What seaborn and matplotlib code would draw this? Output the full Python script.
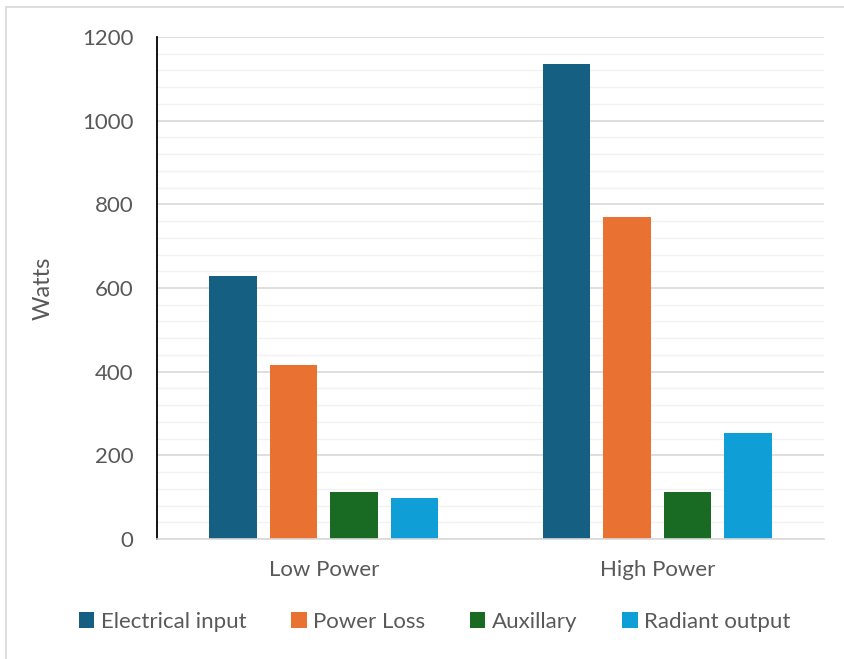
"""Grouped bar chart: power budget at low and high power settings."""

import matplotlib

matplotlib.use("Agg")

import matplotlib.pyplot as plt
import pandas as pd
import seaborn as sns
from matplotlib.patches import Rectangle
from matplotlib.ticker import MultipleLocator

# data
categories = ["Low Power", "High Power"]
series = ["Electrical input", "Power Loss", "Auxillary", "Radiant output"]
electrical_input = [628, 1136]
power_loss = [417, 770]
auxillary = [113, 113]
radiant_output = [98, 254]

colors = ["#156082", "#E97132", "#196B24", "#0F9ED5"]
text_gray = "#595959"

rows = []
for name, values in zip(series, [electrical_input, power_loss, auxillary, radiant_output]):
    for cat, val in zip(categories, values):
        rows.append({"category": cat, "series": name, "watts": val})
df = pd.DataFrame(rows)

sns.set_theme(style="white")
plt.rcParams["font.family"] = ["Lato", "DejaVu Sans"]

fig = plt.figure(figsize=(8.44, 6.59), dpi=100)
ax = fig.add_axes([157 / 844, 1 - 539 / 659, (824 - 157) / 844, (539 - 37) / 659])

sns.barplot(
    data=df,
    x="category",
    y="watts",
    hue="series",
    order=categories,
    hue_order=series,
    palette=colors,
    width=0.726,
    gap=0.22,
    saturation=1,
    edgecolor="none",
    legend=True,
    ax=ax,
)

ax.set_ylim(0, 1200)
ax.set_xlim(-0.5, 1.5)
ax.yaxis.set_major_locator(MultipleLocator(200))
ax.yaxis.set_minor_locator(MultipleLocator(40))
ax.grid(axis="y", which="major", color="#D9D9D9", linewidth=1.2, zorder=0)
ax.grid(axis="y", which="minor", color="#F2F2F2", linewidth=1.0, zorder=0)
ax.grid(axis="x", visible=False)
ax.set_axisbelow(True)

for side in ["top", "right"]:
    ax.spines[side].set_visible(False)
ax.spines["left"].set_color("black")
ax.spines["left"].set_linewidth(1.3)
ax.spines["bottom"].set_color("#D9D9D9")
ax.spines["bottom"].set_linewidth(1.2)

ax.tick_params(axis="y", which="both", length=0, pad=17, labelsize=16, labelcolor=text_gray)
ax.tick_params(axis="x", length=0, pad=15, labelsize=16, labelcolor=text_gray)
ax.set_xlabel("")
ax.set_ylabel("Watts", fontsize=17, color=text_gray, labelpad=20)

handles, labels = ax.get_legend_handles_labels()
ax.legend_.remove()
fig.legend(
    handles,
    labels,
    loc="center",
    bbox_to_anchor=(0.515, 1 - 622 / 659),
    ncol=4,
    frameon=False,
    fontsize=16,
    labelcolor=text_gray,
    handlelength=0.7,
    handleheight=0.7,
    handletextpad=0.3,
    columnspacing=2.0,
)

# thin frame around the chart area
fig.patches.append(
    Rectangle(
        (6 / 844, -0.05),
        1.1,
        1 - 7 / 659 + 0.05,
        transform=fig.transFigure,
        fill=False,
        edgecolor="#D9D9D9",
        linewidth=1.2,
        clip_on=False,
    )
)

fig.savefig("out.png", dpi=100)
plt.close(fig)
